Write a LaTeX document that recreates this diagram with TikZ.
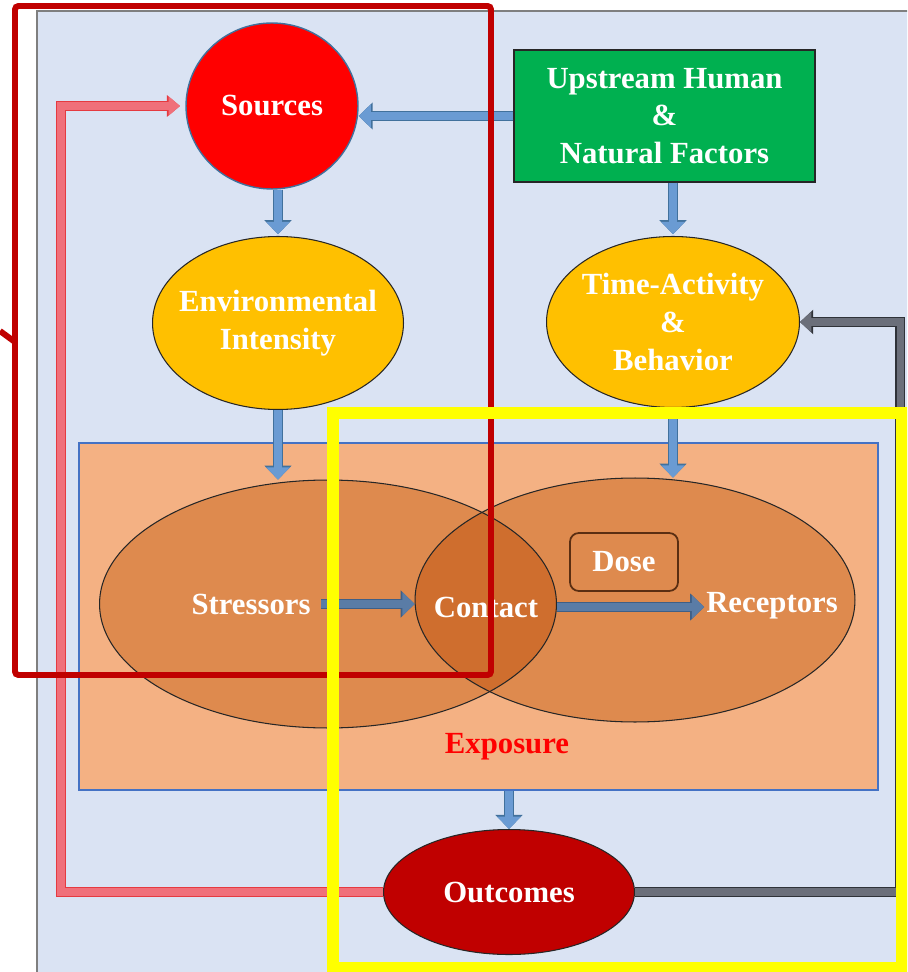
\documentclass[tikz,border=0pt]{standalone}
\usepackage{fontspec}
\setmainfont{Liberation Serif}
\usetikzlibrary{arrows.meta,calc,shapes.geometric}
\definecolor{panel}{HTML}{DAE3F3}
\definecolor{panelborder}{HTML}{7F7F7F}
\definecolor{srcborder}{HTML}{41719C}
\definecolor{upgreen}{HTML}{00B050}
\definecolor{gold}{HTML}{FFC000}
\definecolor{expofill}{HTML}{F4B183}
\definecolor{expoborder}{HTML}{4472C4}
\definecolor{ellfill}{HTML}{DE8A4E}
\definecolor{lensfill}{HTML}{CF6E2E}
\definecolor{dosebord}{HTML}{5A2E12}
\definecolor{outred}{HTML}{C00000}
\definecolor{arrowblue}{HTML}{6A9BD3}
\definecolor{arrowborder}{HTML}{41719C}
\definecolor{innerarrow}{HTML}{5A7CA6}
\definecolor{innerborder}{HTML}{3F5F86}
\definecolor{fbred}{HTML}{F0707A}
\definecolor{fbredborder}{HTML}{E53A40}
\definecolor{fbgray}{HTML}{6B6F7A}
\definecolor{fbgrayborder}{HTML}{2F3238}
\definecolor{redbox}{HTML}{C00000}
\definecolor{ybox}{HTML}{FFFF00}
\begin{document}
\begin{tikzpicture}[x=0.02cm,y=-0.02cm,
  every node/.style={font=\fontsize{17.5}{21.5}\selectfont\bfseries, text=white, align=center, inner sep=0pt},
  lbl/.style={font=\fontsize{17.5}{21.5}\selectfont\bfseries, text=white, align=center},
  barrow/.style={color=arrowblue, line width=5pt, -{Triangle[length=7pt,width=13pt]},
    preaction={draw=arrowborder, line width=6.2pt, -{Triangle[length=8pt,width=15pt]}}},
  iarrow/.style={color=innerarrow, line width=5pt, -{Triangle[length=7pt,width=13pt]},
    preaction={draw=innerborder, line width=6.2pt, -{Triangle[length=8pt,width=15pt]}}},
  redfb/.style={color=fbred, line width=4.8pt, -{Triangle[length=6.5pt,width=10.5pt]},
    preaction={draw=fbredborder, line width=5.8pt, -{Triangle[length=7.5pt,width=12pt]}}},
  grayfb/.style={color=fbgray, line width=4pt, -{Triangle[length=6.5pt,width=11.5pt]},
    preaction={draw=fbgrayborder, line width=5.4pt, -{Triangle[length=7.5pt,width=13.5pt]}}},
  ell/.style={ellipse, draw=black!85, line width=0.6pt}
]
\clip (0,0) rectangle (907,972);
\fill[white] (0,0) rectangle (907,972);
\draw[fill=panel, draw=panelborder, line width=0.9pt] (37,11) rectangle (940,1000);

% top row
\node[ellipse, draw=srcborder, line width=0.8pt, fill=red, minimum width=3.44cm, minimum height=3.32cm,
  label={[lbl]center:Sources}] (src) at (272,106) {};
\node[rectangle, draw=black!85, line width=0.8pt, fill=upgreen, minimum width=6.02cm, minimum height=2.64cm]
  (up) at (664.5,116) {Upstream Human\\\&\\Natural Factors};

% middle row
\node[ell, fill=gold, minimum width=5.02cm, minimum height=3.46cm,
  label={[lbl]center:Environmental\\Intensity}] (env) at (278,323) {};
\node[ell, fill=gold, minimum width=5.06cm, minimum height=3.42cm,
  label={[lbl]center:Time-Activity\\\&\\Behavior}] (time) at (673,322) {};

% exposure box
\node[draw=expoborder, line width=0.7pt, fill=expofill, minimum width=15.98cm, minimum height=6.94cm]
  (expo) at (478.5,616.5) {};
\node[ellipse, fill=ellfill, minimum width=9.14cm, minimum height=4.96cm] (stre) at (328,604) {};
\node[ellipse, fill=ellfill, minimum width=8.8cm, minimum height=4.88cm] (rece) at (635,600) {};
\begin{scope}
  \clip (stre.center) ellipse [x radius=4.57cm, y radius=2.48cm];
  \fill[lensfill] (rece.center) ellipse [x radius=4.4cm, y radius=2.44cm];
\end{scope}
\draw[black!85, line width=0.6pt] (stre.center) ellipse [x radius=4.57cm, y radius=2.48cm];
\draw[black!85, line width=0.6pt] (rece.center) ellipse [x radius=4.4cm, y radius=2.44cm];

\node[draw=dosebord, line width=1pt, fill=ellfill, rounded corners=5pt, minimum width=2.16cm, minimum height=1.16cm]
  (dose) at (624,562) {Dose};
\node (strtxt) at (251,604) {Stressors};
\node (contxt) at (486,607) {Contact};
\node (rectxt) at (772,606) {Receptors};
\node[text=red] (expotxt) at (507,747) {Exposure};

% outcomes
\node[ell, fill=outred, minimum width=5.02cm, minimum height=2.5cm,
  label={[lbl]center:Outcomes}] (out) at (509,892) {};

% connectors
\draw[barrow] (up.west) -- (up.west -| src.east);
\draw[barrow, shorten >=1pt] (src.south -| env.north) -- (env.north);
\draw[barrow, shorten >=1pt] (up.south -| time.north) -- (time.north);
\draw[barrow] (env.south) -- (env.south |- stre.north);
\draw[barrow] (time.south) -- (time.south |- rece.north);
\draw[iarrow] ([xshift=6pt]strtxt.east) -- (strtxt.east -| rece.west);
\draw[iarrow] (contxt.east -| stre.east) -- ([xshift=-1pt]contxt.east -| rectxt.west);
\draw[barrow] (expo.south -| out.north) -- (out.north);

\coordinate (fbl) at (61,896);
\draw[redfb, shorten >=3pt] (out.west) -- (out.west -| fbl) |- (src.west);
\coordinate (fbr) at (900,325);
\draw[grayfb] (out.east) -- (out.east -| fbr) |- (time.east);

% highlight frames
\draw[redbox, line width=3.4pt, rounded corners=2pt] (15,6) rectangle (491,675);
\draw[redbox, line width=3.4pt] (0,331) -- (15,342);
\draw[ybox, line width=7pt] (333,413) rectangle (902,968);
\end{tikzpicture}
\end{document}
